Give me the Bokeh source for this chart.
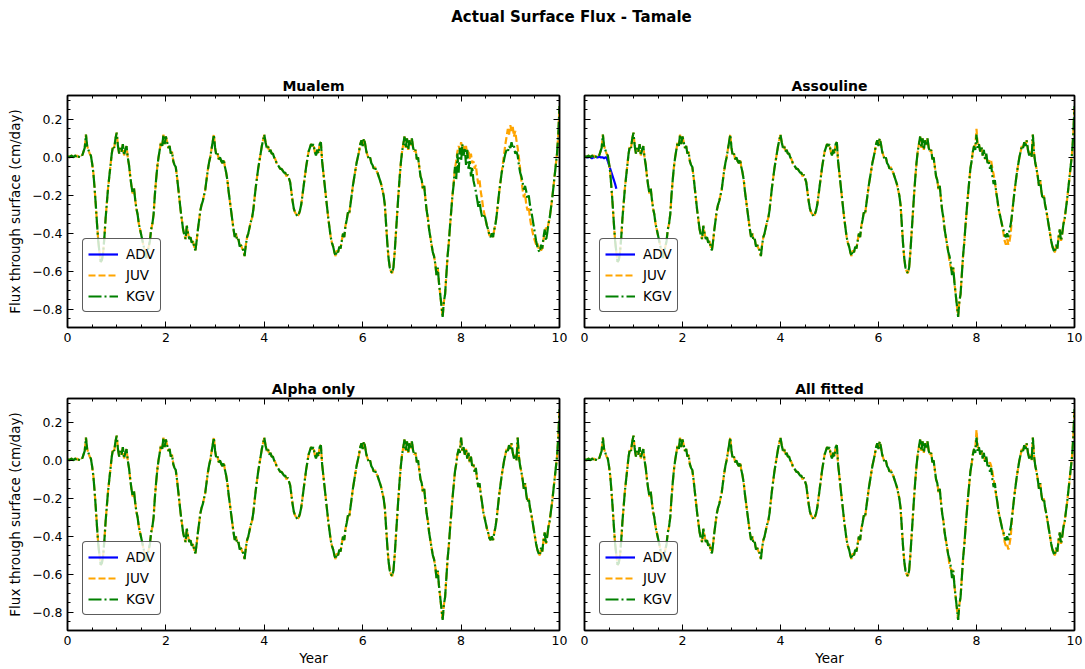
from bokeh.plotting import figure
from bokeh.layouts import column, row
from bokeh.models import (Range1d, LinearAxis, SingleIntervalTicker, CustomJSTickFormatter,
                          Legend, LegendItem, ColumnDataSource)
from bokeh.embed import file_html
from bokeh.resources import INLINE

# ---------------- data ----------------
STEP = 0.025
years = [round(i * STEP, 3) for i in range(401)]

base_flux = [
    # year 0
    0.00, 0.005, 0.00, 0.01, 0.005, 0.00, 0.01, 0.005, 0.01, 0.00,
    0.01, 0.015, 0.01, 0.03, 0.05, 0.12, 0.06, 0.04, 0.02, 0.01,
    -0.03, -0.08, -0.16, -0.25, -0.35, -0.44, -0.50, -0.55, -0.54, -0.50,
    -0.42, -0.32, -0.24, -0.16, -0.10, -0.04, 0.02, 0.06, 0.05, 0.10,
    # year 1
    0.13, 0.06, 0.02, 0.05, 0.03, 0.07, 0.01, 0.04, 0.06, 0.00,
    -0.04, -0.10, -0.15, -0.19, -0.16, -0.22, -0.27, -0.30, -0.35, -0.38,
    -0.41, -0.44, -0.47, -0.50, -0.53, -0.50, -0.47, -0.44, -0.38, -0.35,
    -0.30, -0.20, -0.12, -0.05, 0.00, 0.04, 0.08, 0.06, 0.12, 0.07,
    # year 2
    0.11, 0.08, 0.05, 0.06, 0.02, 0.03, -0.02, -0.04, -0.05, -0.10,
    -0.16, -0.22, -0.28, -0.33, -0.38, -0.41, -0.43, -0.36, -0.40, -0.43,
    -0.42, -0.45, -0.44, -0.47, -0.49, -0.44, -0.38, -0.33, -0.28, -0.25,
    -0.23, -0.20, -0.17, -0.12, -0.07, -0.03, 0.00, 0.04, 0.08, 0.12,
    # year 3
    0.05, 0.01, 0.02, -0.01, 0.00, -0.02, -0.03, -0.01, -0.05, -0.08,
    -0.12, -0.18, -0.23, -0.28, -0.33, -0.38, -0.42, -0.40, -0.44, -0.43,
    -0.47, -0.46, -0.48, -0.49, -0.52, -0.46, -0.42, -0.40, -0.37, -0.34,
    -0.32, -0.28, -0.22, -0.16, -0.11, -0.06, -0.02, 0.02, 0.06, 0.09,
    # year 4
    0.12, 0.08, 0.05, 0.06, 0.03, 0.04, 0.02, 0.02, 0.00, -0.01,
    -0.03, -0.04, -0.05, -0.06, -0.06, -0.07, -0.08, -0.08, -0.10, -0.09,
    -0.11, -0.13, -0.18, -0.23, -0.27, -0.29, -0.30, -0.31, -0.30, -0.28,
    -0.25, -0.20, -0.15, -0.10, -0.05, -0.01, 0.03, 0.05, 0.07, 0.06,
    # year 5
    0.07, 0.03, 0.01, 0.04, 0.02, 0.07, 0.08, -0.02, -0.08, -0.14,
    -0.20, -0.26, -0.32, -0.37, -0.42, -0.45, -0.47, -0.50, -0.52, -0.49,
    -0.50, -0.47, -0.48, -0.44, -0.40, -0.42, -0.36, -0.33, -0.29, -0.30,
    -0.25, -0.20, -0.15, -0.11, -0.07, -0.03, 0.00, 0.03, 0.07, 0.09,
    # year 6
    0.06, 0.10, 0.07, 0.03, 0.01, -0.01, 0.00, -0.03, -0.04, -0.06,
    -0.05, -0.07, -0.08, -0.10, -0.12, -0.14, -0.17, -0.20, -0.25, -0.35,
    -0.45, -0.53, -0.58, -0.60, -0.61, -0.58, -0.50, -0.40, -0.30, -0.20,
    -0.11, -0.03, 0.03, 0.07, 0.11, 0.05, 0.10, 0.04, 0.09, 0.06,
    # year 7
    0.10, 0.05, 0.03, 0.04, -0.01, 0.00, -0.05, -0.10, -0.12, -0.17,
    -0.15, -0.22, -0.28, -0.32, -0.38, -0.42, -0.46, -0.50, -0.52, -0.56,
    -0.62, -0.58, -0.66, -0.72, -0.78, -0.84, -0.76, -0.72, -0.62, -0.52,
    -0.45, -0.36, -0.28, -0.20, -0.13, -0.06, -0.02, 0.03, 0.06, 0.04,
    # year 8
    0.12, 0.05, 0.07, 0.03, 0.06, 0.01, 0.04, -0.01, 0.02, -0.03,
    -0.02, -0.06, -0.04, -0.10, -0.14, -0.12, -0.18, -0.22, -0.27, -0.30,
    -0.33, -0.36, -0.38, -0.41, -0.42, -0.40, -0.42, -0.38, -0.35, -0.30,
    -0.24, -0.18, -0.13, -0.08, -0.04, 0.00, 0.03, 0.06, 0.05, 0.08,
    # year 9
    0.06, 0.09, 0.04, 0.01, 0.03, 0.00, 0.12, 0.02, -0.03, -0.06,
    -0.10, -0.15, -0.12, -0.18, -0.22, -0.20, -0.25, -0.28, -0.32, -0.36,
    -0.40, -0.44, -0.47, -0.49, -0.50, -0.46, -0.48, -0.42, -0.38, -0.44,
    -0.40, -0.35, -0.32, -0.27, -0.22, -0.16, -0.10, -0.04, 0.02, 0.12,
    # end
    0.27,
]

# Mualem deviations (start year, values at 0.025-year steps)
mualem_kgv_seg1_start = 7.85
mualem_kgv_seg1 = [-0.14, -0.05, -0.12, 0.02, -0.08, 0.05, -0.02, 0.07, 0.01, 0.05,
                   -0.04, 0.04, -0.06, -0.02, -0.10, -0.05, -0.12, -0.15, -0.18, -0.22,
                   -0.26, -0.23, -0.28, -0.31, -0.32]
mualem_kgv_seg2_start = 8.85
mualem_kgv_seg2 = [-0.05, -0.01, 0.02, 0.04, 0.03, 0.06, 0.05, 0.08, 0.05, 0.06,
                   0.02, 0.03, 0.01, -0.04, -0.08, -0.10, -0.13, -0.17, -0.15]
mualem_juv_seg1_start = 7.975
mualem_juv_seg1 = [0.04, 0.08, 0.05, 0.06, 0.03]
mualem_juv_seg2_start = 8.85
mualem_juv_seg2 = [-0.03, 0.02, 0.07, 0.11, 0.15, 0.12, 0.17, 0.14, 0.16, 0.11,
                   0.14, 0.09, 0.05, 0.00, -0.06, -0.12, -0.17, -0.21, -0.19, -0.25,
                   -0.28, -0.26, -0.32, -0.36, -0.39, -0.42, -0.44, -0.46, -0.45, -0.48,
                   -0.47, -0.49, -0.48, -0.43, -0.40, -0.37, -0.38]
adv_none_years = [0.0]
adv_none = [0.0]

# Assouline deviations
assouline_juv_seg1_start = 7.425
assouline_juv_seg1 = [-0.50, -0.55, -0.58, -0.60]
assouline_juv_seg2_start = 7.975
assouline_juv_seg2 = [0.06, 0.15, 0.06, 0.07, 0.03, 0.05, 0.01, 0.03, -0.01, 0.01,
                      -0.02, -0.03, -0.01, -0.02, -0.06, -0.09, -0.13]
assouline_juv_seg3_start = 8.55
assouline_juv_seg3 = [-0.40, -0.44, -0.46, -0.43, -0.46, -0.44, -0.40]
adv_assouline_years = [round(i * STEP, 3) for i in range(27)]
adv_assouline = [0.00, 0.005, 0.00, 0.00, 0.005, 0.00, -0.005, 0.00, 0.00, 0.005,
                 0.00, 0.00, 0.005, 0.00, 0.00, 0.00, -0.005, 0.00, 0.00, -0.02,
                 -0.04, -0.06, -0.08, -0.10, -0.12, -0.14, -0.165]

# All fitted deviations
allfit_juv_seg1_start = 7.425
allfit_juv_seg1 = [-0.50, -0.56, -0.57, -0.58]
allfit_juv_seg2_start = 7.975
allfit_juv_seg2 = [0.06, 0.16, 0.07, 0.06, 0.04, 0.05, 0.02, 0.03, -0.01, 0.01,
                   -0.02, -0.02, -0.01, -0.03, -0.06, -0.10, -0.14]
allfit_juv_seg3_start = 8.55
allfit_juv_seg3 = [-0.38, -0.43, -0.45, -0.44, -0.47, -0.44, -0.40]

panel_titles = ["Mualem", "Assouline", "Alpha only", "All fitted"]
series_names = ["ADV", "JUV", "KGV"]
suptitle = "Actual Surface Flux - Tamale"


def patched(series, *segments):
    out = list(series)
    for start, seg in segments:
        i0 = int(round(start / STEP))
        for k, v in enumerate(seg):
            out[i0 + k] = v
    return out


mualem_kgv = patched(base_flux, (mualem_kgv_seg1_start, mualem_kgv_seg1),
                     (mualem_kgv_seg2_start, mualem_kgv_seg2))
mualem_juv = patched(base_flux, (mualem_juv_seg1_start, mualem_juv_seg1),
                     (mualem_juv_seg2_start, mualem_juv_seg2))
assouline_kgv = list(base_flux)
assouline_juv = patched(base_flux, (assouline_juv_seg1_start, assouline_juv_seg1),
                        (assouline_juv_seg2_start, assouline_juv_seg2),
                        (assouline_juv_seg3_start, assouline_juv_seg3))
alpha_kgv = list(base_flux)
alpha_juv = list(base_flux)
allfit_kgv = list(base_flux)
allfit_juv = patched(base_flux, (allfit_juv_seg1_start, allfit_juv_seg1),
                     (allfit_juv_seg2_start, allfit_juv_seg2),
                     (allfit_juv_seg3_start, allfit_juv_seg3))

# ---------------- styling ----------------
FONT = "DejaVu Sans"
Y_MIN, Y_MAX = -0.896, 0.326

yfmt = CustomJSTickFormatter(code="""
    if (Math.abs(tick) < 1e-9) { return '0.0'; }
    return tick.toFixed(1).replace('-', '\u2212');
""")


def style_axis(ax, show_labels):
    ax.major_tick_in = 6
    ax.major_tick_out = 0
    ax.minor_tick_in = 3
    ax.minor_tick_out = 0
    ax.axis_line_width = 1.5
    ax.axis_line_color = "black"
    ax.major_tick_line_color = "black"
    ax.minor_tick_line_color = "black"
    ax.major_label_text_font = FONT
    ax.major_label_text_color = "black"
    ax.axis_label_text_font = FONT
    ax.axis_label_text_font_size = "13.5px"
    ax.axis_label_text_font_style = "normal"
    ax.axis_label_text_color = "black"
    ax.major_label_text_font_size = "12.5px"
    if show_labels:
        ax.major_label_standoff = 5
        ax.axis_label_standoff = 6
    else:
        ax.formatter = CustomJSTickFormatter(code="return '';")
        ax.major_label_standoff = 0


def make_panel(title, kgv, juv, adv_x, adv_y, width, height, borders, left_labels, xlabel):
    p = figure(width=width, height=height, x_range=Range1d(0, 10), y_range=Range1d(Y_MIN, Y_MAX),
               output_backend="svg", toolbar_location=None,
               min_border_left=borders[0], min_border_right=borders[1],
               min_border_top=borders[2], min_border_bottom=borders[3],
               x_axis_type=None, y_axis_type=None)
    p.xgrid.visible = False
    p.ygrid.visible = False
    p.outline_line_color = "black"
    p.outline_line_width = 1.5
    p.background_fill_color = "white"
    p.border_fill_color = "white"

    p.title.text = title
    p.title.align = "center"
    p.title.text_font = FONT
    p.title.text_font_size = "14px"
    p.title.text_font_style = "bold"
    p.title.text_color = "black"
    p.title.standoff = 3

    xt = SingleIntervalTicker(interval=2, num_minor_ticks=4)
    yt = SingleIntervalTicker(interval=0.2, num_minor_ticks=4)

    bottom = LinearAxis(ticker=xt)
    style_axis(bottom, True)
    if xlabel:
        bottom.axis_label = "Year"
        bottom.axis_label_standoff = 2
    p.add_layout(bottom, "below")

    top = LinearAxis(ticker=xt)
    style_axis(top, False)
    p.add_layout(top, "above")

    left = LinearAxis(ticker=yt, formatter=yfmt)
    style_axis(left, left_labels)
    if left_labels:
        left.axis_label = "Flux through surface (cm/day)"
    p.add_layout(left, "left")

    right = LinearAxis(ticker=yt)
    style_axis(right, False)
    p.add_layout(right, "right")

    r_adv = p.line(x="x", y="y", source=ColumnDataSource(dict(x=adv_x, y=adv_y)),
                   line_color="blue", line_width=2.2)
    r_juv = p.line(x="x", y="y", source=ColumnDataSource(dict(x=years, y=juv)),
                   line_color="orange", line_width=2.2, line_dash="7 3")
    r_kgv = p.line(x="x", y="y", source=ColumnDataSource(dict(x=years, y=kgv)),
                   line_color="green", line_width=2.2, line_dash="13 3 2 3")

    legend = Legend(items=[LegendItem(label=series_names[0], renderers=[r_adv]),
                           LegendItem(label=series_names[1], renderers=[r_juv]),
                           LegendItem(label=series_names[2], renderers=[r_kgv])],
                    location="bottom_left")
    legend.margin = 15
    legend.padding = 5
    legend.spacing = 1
    legend.glyph_width = 30
    legend.glyph_height = 20
    legend.label_height = 20
    legend.label_standoff = 8
    legend.label_text_font = FONT
    legend.label_text_font_size = "13.5px"
    legend.label_text_color = "black"
    legend.border_line_color = "#333333"
    legend.border_line_alpha = 0.8
    legend.border_line_width = 1
    legend.background_fill_color = "white"
    legend.background_fill_alpha = 0.8
    if "border_radius" in Legend.properties():
        legend.border_radius = 4
    p.add_layout(legend)
    return p


p_mualem = make_panel(panel_titles[0], mualem_kgv, mualem_juv, adv_none_years, adv_none,
                      575, 301, (67, 16, 33, 36), True, False)
p_assouline = make_panel(panel_titles[1], assouline_kgv, assouline_juv,
                         adv_assouline_years, adv_assouline,
                         510, 301, (9, 11, 33, 36), False, False)
p_alpha = make_panel(panel_titles[2], alpha_kgv, alpha_juv, adv_none_years, adv_none,
                     575, 306, (67, 16, 35, 39), True, True)
p_allfit = make_panel(panel_titles[3], allfit_kgv, allfit_juv, adv_none_years, adv_none,
                      510, 306, (9, 11, 35, 39), False, True)

# super title
p_title = figure(width=1085, height=62, x_range=Range1d(0, 1), y_range=Range1d(0, 1),
                 output_backend="svg", toolbar_location=None, title=suptitle,
                 min_border_top=4, min_border_bottom=0, min_border_left=57, min_border_right=0,
                 x_axis_type=None, y_axis_type=None)
p_title.outline_line_color = None
p_title.xgrid.visible = False
p_title.ygrid.visible = False
p_title.title.align = "center"
p_title.title.text_font = FONT
p_title.title.text_font_size = "15px"
p_title.title.text_font_style = "bold"
p_title.title.text_color = "black"

layout = column(p_title, row(p_mualem, p_assouline), row(p_alpha, p_allfit))

with open("out.html", "w") as f:
    f.write(file_html(layout, INLINE))
